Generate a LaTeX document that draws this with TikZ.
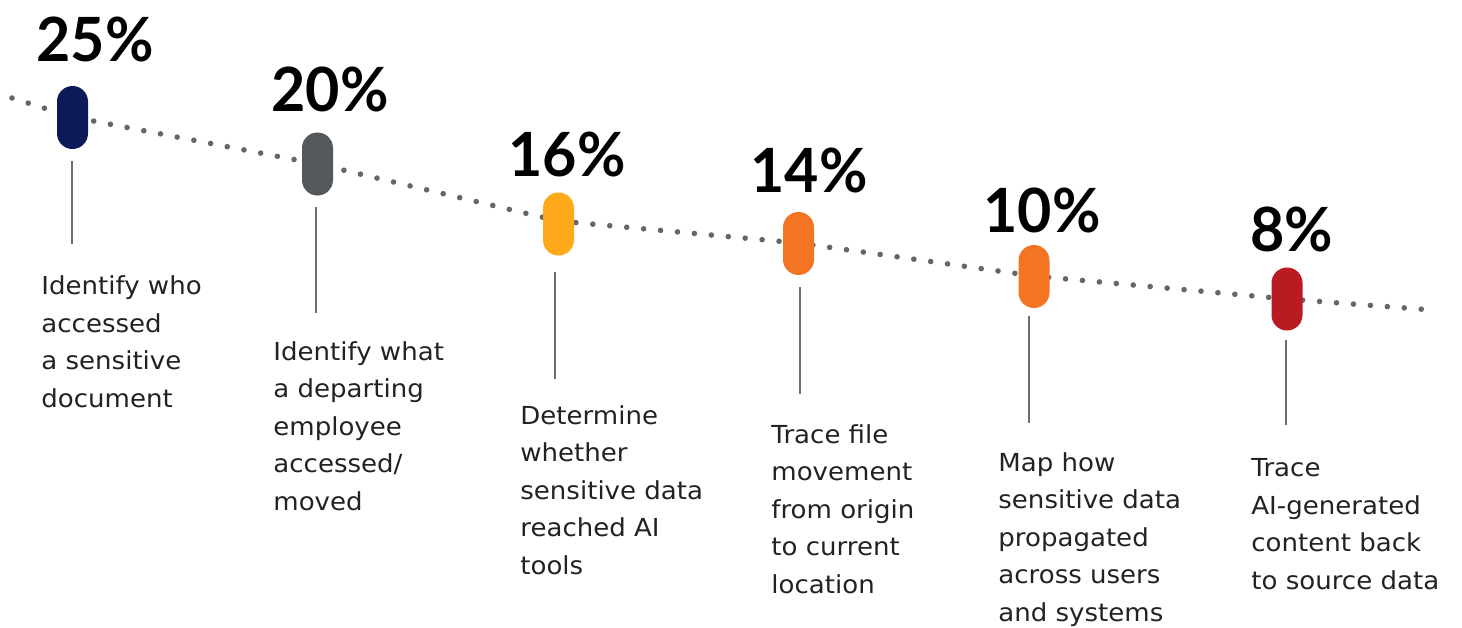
\documentclass[tikz,border=0pt]{standalone}
\usepackage{fontspec}
\setmainfont{DejaVu Sans}[FakeStretch=1.05]
\newfontfamily\pctfont{Lato}[FakeStretch=0.97]
\definecolor{navy}{HTML}{0C1A57}
\definecolor{slate}{HTML}{54575C}
\definecolor{amber}{HTML}{FDA91A}
\definecolor{orng}{HTML}{F37423}
\definecolor{crimson}{HTML}{BA1A22}
\definecolor{txt}{HTML}{222222}
\definecolor{stemc}{HTML}{6E6E6E}
\definecolor{dotc}{HTML}{666666}
\begin{document}
\begin{tikzpicture}[x=0.5pt,y=-0.5pt,
  pill/.style={draw=none, rounded corners=7.75pt, minimum width=15.5pt, minimum height=31.5pt, inner sep=0pt},
  pct/.style={anchor=base west, inner sep=0pt, font=\pctfont\bfseries\fontsize{30.5}{30.5}\selectfont, text=black},
  desc/.style={anchor=base west, inner sep=0pt, align=left, font=\fontsize{12.4}{18.7}\selectfont, text=txt},
  stem/.style={draw=stemc, line width=0.75pt},
  dotline/.style={draw=dotc, line width=2.8pt, line cap=round, dash pattern=on 0pt off 8.5pt}]
\useasboundingbox (0,0) rectangle (1462,627);
% dotted trend line
\coordinate (ds) at (12,98);
\coordinate (de) at (1432,310);
\coordinate (v1) at (72.5,117);
\coordinate (v2) at (317.5,164);
\coordinate (v3) at (558.5,221);
\coordinate (v4) at (798.5,243);
\coordinate (v5) at (1034,276);
\coordinate (v6) at (1287,299);
\draw[dotline] (ds) -- (v1) -- (v2) -- (v3) -- (v4) -- (v5) -- (v6) -- (de);
% pills
\node[pill, fill=navy] (p1) at (72.5,117.5) {};
\node[pill, fill=slate] (p2) at (317.5,164) {};
\node[pill, fill=amber] (p3) at (558.5,224) {};
\node[pill, fill=orng] (p4) at (798.5,243.5) {};
\node[pill, fill=orng] (p5) at (1034,276.5) {};
\node[pill, fill=crimson] (p6) at (1287,299) {};
% percentages
\node[pct] (t1) at (36,61) {25\%};
\node[pct] (t2) at (271,111) {20\%};
\node[pct] (t3) at (508,176) {16\%};
\node[pct] (t4) at (750,192) {14\%};
\node[pct] (t5) at (983,232) {10\%};
\node[pct] (t6) at (1250,251) {8\%};
% stems
\coordinate (a1) at (72,161);   \coordinate (b1) at (72,244);
\coordinate (a2) at (316,207);  \coordinate (b2) at (316,313);
\coordinate (a3) at (555,272);  \coordinate (b3) at (555,379);
\coordinate (a4) at (800,287);  \coordinate (b4) at (800,394);
\coordinate (a5) at (1029,316); \coordinate (b5) at (1029,423);
\coordinate (a6) at (1286,340); \coordinate (b6) at (1286,425);
\draw[stem] (a1) -- (b1);
\draw[stem] (a2) -- (b2);
\draw[stem] (a3) -- (b3);
\draw[stem] (a4) -- (b4);
\draw[stem] (a5) -- (b5);
\draw[stem] (a6) -- (b6);
% descriptions (anchored at the baseline of the last line)
\node[desc] (d1) at (41,407) {Identify who\\accessed\\a sensitive\\document};
\node[desc] (d2) at (273,510) {Identify what\\a departing\\employee\\accessed/\\moved};
\node[desc] (d3) at (520,574) {Determine\\whether\\sensitive data\\reached AI\\tools};
\node[desc] (d4) at (771,593) {Trace file\\movement\\from origin\\to current\\location};
\node[desc] (d5) at (998,621) {Map how\\sensitive data\\propagated\\across users\\and systems};
\node[desc] (d6) at (1251,589) {Trace\\AI-generated\\content back\\to source data};
\end{tikzpicture}
\end{document}
